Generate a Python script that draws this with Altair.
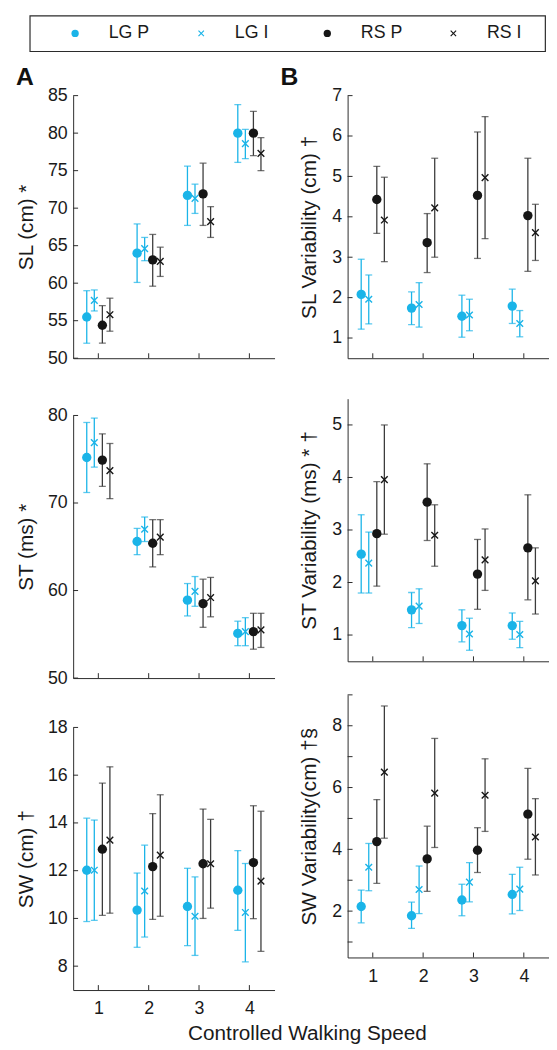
import altair as alt
import pandas as pd

SERIES = ["LG P", "LG I", "RS P", "RS I"]
SPEEDS = [1, 2, 3, 4]

# ---- SL (cm) ----
SL_MEAN = {"LG P": [55.5, 64.0, 71.7, 80.0], "LG I": [57.7, 64.6, 71.3, 78.6],
           "RS P": [54.4, 63.1, 71.9, 80.0], "RS I": [55.8, 62.9, 68.2, 77.3]}
SL_LOW = {"LG P": [52.0, 60.1, 67.7, 76.1], "LG I": [56.3, 63.0, 69.3, 76.6],
          "RS P": [52.0, 59.6, 67.7, 77.0], "RS I": [53.6, 60.9, 66.1, 75.0]}
SL_HIGH = {"LG P": [59.0, 67.9, 75.6, 83.8], "LG I": [59.1, 66.1, 73.2, 80.5],
           "RS P": [57.0, 66.5, 76.0, 82.9], "RS I": [58.0, 64.8, 70.2, 79.4]}

# ---- SL Variability (cm) ----
SLV_MEAN = {"LG P": [2.08, 1.74, 1.54, 1.79], "LG I": [1.96, 1.83, 1.57, 1.36],
            "RS P": [4.43, 3.36, 4.53, 4.03], "RS I": [3.92, 4.22, 4.97, 3.61]}
SLV_LOW = {"LG P": [1.22, 1.33, 1.02, 1.36], "LG I": [1.35, 1.27, 1.18, 1.03],
           "RS P": [3.59, 2.62, 2.97, 2.65], "RS I": [2.89, 3.00, 3.46, 2.92]}
SLV_HIGH = {"LG P": [2.95, 2.14, 2.06, 2.21], "LG I": [2.56, 2.37, 1.96, 1.68],
            "RS P": [5.25, 4.08, 6.10, 5.45], "RS I": [4.98, 5.45, 6.48, 4.31]}

# ---- ST (ms) ----
ST_MEAN = {"LG P": [75.2, 65.6, 58.9, 55.1], "LG I": [76.9, 67.0, 59.9, 55.3],
           "RS P": [74.9, 65.4, 58.5, 55.3], "RS I": [73.7, 66.1, 59.2, 55.5]}
ST_LOW = {"LG P": [71.2, 64.1, 57.1, 53.7], "LG I": [74.1, 65.6, 58.2, 53.7],
          "RS P": [71.9, 62.7, 55.8, 53.3], "RS I": [70.5, 64.1, 57.0, 53.5]}
ST_HIGH = {"LG P": [79.2, 67.1, 60.8, 56.5], "LG I": [79.7, 68.4, 61.6, 56.9],
           "RS P": [77.9, 68.1, 61.3, 57.4], "RS I": [76.8, 68.1, 61.5, 57.4]}

# ---- ST Variability (ms) ----
STV_MEAN = {"LG P": [2.54, 1.48, 1.18, 1.18], "LG I": [2.37, 1.55, 1.02, 1.01],
            "RS P": [2.93, 3.53, 2.16, 2.66], "RS I": [3.96, 2.90, 2.43, 2.03]}
STV_LOW = {"LG P": [1.80, 1.14, 0.87, 0.92], "LG I": [1.80, 1.22, 0.71, 0.76],
           "RS P": [1.93, 2.80, 1.49, 1.67], "RS I": [2.92, 2.31, 1.85, 1.40]}
STV_HIGH = {"LG P": [3.29, 1.81, 1.48, 1.42], "LG I": [2.96, 1.88, 1.32, 1.26],
            "RS P": [3.92, 4.26, 2.82, 3.67], "RS I": [5.00, 3.48, 3.02, 2.66]}

# ---- SW (cm) ----
SW_MEAN = {"LG P": [12.02, 10.35, 10.50, 11.18], "LG I": [12.02, 11.15, 10.09, 10.25],
           "RS P": [12.90, 12.17, 12.29, 12.34], "RS I": [13.28, 12.65, 12.29, 11.56]}
SW_LOW = {"LG P": [9.87, 8.79, 8.86, 9.50], "LG I": [9.92, 9.22, 8.45, 8.18],
          "RS P": [10.13, 9.96, 10.00, 9.99], "RS I": [10.22, 10.09, 10.43, 8.62]}
SW_HIGH = {"LG P": [14.20, 11.90, 12.10, 12.84], "LG I": [14.12, 13.07, 11.74, 12.30],
           "RS P": [15.67, 14.39, 14.58, 14.72], "RS I": [16.35, 15.18, 14.15, 14.49]}

# ---- SW Variability (cm) ----
SWV_MEAN = {"LG P": [2.15, 1.85, 2.36, 2.54], "LG I": [3.42, 2.70, 2.94, 2.71],
            "RS P": [4.25, 3.69, 3.97, 5.14], "RS I": [6.50, 5.82, 5.75, 4.40]}
SWV_LOW = {"LG P": [1.62, 1.44, 1.85, 1.91], "LG I": [2.66, 1.92, 2.30, 2.02],
           "RS P": [2.90, 2.64, 3.25, 3.68], "RS I": [4.36, 4.06, 4.58, 3.17]}
SWV_HIGH = {"LG P": [2.68, 2.29, 2.87, 3.19], "LG I": [4.19, 3.46, 3.57, 3.42],
            "RS P": [5.61, 4.75, 4.70, 6.62], "RS I": [8.64, 7.59, 6.93, 5.64]}

# axis ticks / labels
SL_TICKS = [50, 55, 60, 65, 70, 75, 80, 85]
SLV_TICKS = [1, 2, 3, 4, 5, 6, 7]
ST_TICKS = [50, 60, 70, 80]
STV_TICKS = [1, 2, 3, 4, 5]
SW_TICKS = [8, 10, 12, 14, 16, 18]
SWV_TICKS = [1, 2, 3, 4, 5, 6, 7, 8, 9]
SWV_LABELS = [2, 4, 6, 8]

X_TITLE = "Controlled Walking Speed"

# ---- styles ----
CYAN = "#1ab4e8"
BLACK = "#161616"
BAR_BLACK = "#3c3c3c"
AXIS_COLOR = "#2b2b2b"
TEXT_COLOR = "#1a1a1a"
FONT = "Liberation Sans"
OFFSET = {"LG P": -0.23, "LG I": -0.08, "RS P": 0.08, "RS I": 0.23}
XPATH = "M-1,-0.74L-0.74,-1L1,0.74L0.74,1Z M-1,0.74L0.74,-1L1,-0.74L-0.74,1Z"
W, H = 204, 266


def frame(mean, low, high):
    rows = []
    for s in SERIES:
        g, k = s.split()
        for j, sp in enumerate(SPEEDS):
            rows.append({"series": s, "group": g, "kind": k, "x": sp + OFFSET[s],
                         "m": mean[s][j], "lo": low[s][j], "hi": high[s][j]})
    return pd.DataFrame(rows)


def bar_color():
    return alt.when(alt.datum.group == "LG").then(alt.value(CYAN)).otherwise(alt.value(BAR_BLACK))


def mk_color():
    return alt.when(alt.datum.group == "LG").then(alt.value(CYAN)).otherwise(alt.value(BLACK))


def panel(df, title, ydom, ylabels, yticks, xlabels, head=None, head_dx=0, title_pad=11):
    xs = alt.Scale(domain=[0.5, 4.5], nice=False, zero=False)
    ys = alt.Scale(domain=ydom, nice=False, zero=False)
    xax = alt.Axis(values=SPEEDS, labels=xlabels, ticks=False, grid=False, title=None,
                   domainColor=AXIS_COLOR, labelPadding=10, format="d", labelFlush=False)
    yax = alt.Axis(values=ylabels, title=title, ticks=False, grid=False, labelPadding=6,
                   titlePadding=title_pad, domainColor=AXIS_COLOR, labelFlush=False)
    X = alt.X("x:Q", scale=xs, axis=xax)
    base = alt.Chart(df)
    xtk = alt.Chart(pd.DataFrame({"x": SPEEDS})).mark_rule(color=AXIS_COLOR, strokeWidth=1).encode(
        x=X, y=alt.value(H), y2=alt.value(H - 5))
    ytk = alt.Chart(pd.DataFrame({"v": yticks})).mark_rule(color=AXIS_COLOR, strokeWidth=1).encode(
        y=alt.Y("v:Q", scale=ys, axis=yax), x=alt.value(0), x2=alt.value(5))
    rules = base.mark_rule(strokeWidth=1.3).encode(
        x=X, y=alt.Y("lo:Q", scale=ys, axis=yax), y2="hi:Q", color=bar_color())
    caps = base.transform_fold(["lo", "hi"], as_=["end", "v"]).mark_tick(
        orient="horizontal", size=7, thickness=1.3).encode(
        x=X, y=alt.Y("v:Q", scale=ys, axis=yax), color=bar_color())
    circ = base.transform_filter(alt.datum.kind == "P").mark_point(
        filled=True, shape="circle", size=90, opacity=1).encode(
        x=X, y=alt.Y("m:Q", scale=ys, axis=yax), color=mk_color())
    crs = base.transform_filter(alt.datum.kind == "I").mark_point(
        filled=True, shape=XPATH, size=60, opacity=1).encode(
        x=X, y=alt.Y("m:Q", scale=ys, axis=yax), color=mk_color())
    ch = alt.layer(xtk, ytk, rules, caps, circ, crs).properties(width=W, height=H)
    if head:
        ch = ch.properties(title=alt.TitleParams(
            head, anchor="start", frame="bounds", fontSize=25, fontWeight="bold", font=FONT,
            color="#111111", dx=head_dx, baseline="alphabetic", offset=-23))
    return ch


def spacer(w, h):
    return alt.Chart(pd.DataFrame({"a": [0]})).mark_point(opacity=0).properties(width=w, height=h)


pA1 = panel(frame(SL_MEAN, SL_LOW, SL_HIGH), "SL (cm) *", [50, 85], SL_TICKS, SL_TICKS, False, head="A")
pA2 = panel(frame(ST_MEAN, ST_LOW, ST_HIGH), "ST (ms) *", [50, 80], ST_TICKS, ST_TICKS, False)
pA3 = panel(frame(SW_MEAN, SW_LOW, SW_HIGH), "SW (cm) \u2020", [7, 18], SW_TICKS, SW_TICKS, True)

pB1 = panel(frame(SLV_MEAN, SLV_LOW, SLV_HIGH), "SL Variability (cm) \u2020", [0.5, 7], SLV_TICKS, SLV_TICKS,
            False, head="B", head_dx=-18, title_pad=13)
pB2 = panel(frame(STV_MEAN, STV_LOW, STV_HIGH), "ST Variability (ms) * \u2020", [0.5, 5.5], STV_TICKS, STV_TICKS,
            False, title_pad=13)
pB3 = panel(frame(SWV_MEAN, SWV_LOW, SWV_HIGH), "SW Variability(cm) \u2020\u00a7", [0.5, 9], SWV_LABELS, SWV_TICKS,
            True, title_pad=13)

left = alt.vconcat(alt.vconcat(pA1, pA2, spacing=40), pA3, spacing=32)
right = alt.vconcat(alt.vconcat(pB1, pB2, spacing=40), pB3, spacing=32)
panels = alt.hconcat(left, right, spacing=5)
grid = alt.hconcat(spacer(1, 1), panels, spacing=0).properties(
    title=alt.TitleParams(X_TITLE, orient="bottom", anchor="middle", fontSize=21, fontWeight="normal",
                          font=FONT, color=TEXT_COLOR, dx=29, offset=6))

# ---- legend ----
leg_df = pd.DataFrame({"label": SERIES, "i": [0, 1, 2, 3],
                       "group": [s.split()[0] for s in SERIES], "kind": [s.split()[1] for s in SERIES]})
lx = alt.X("i:Q", scale=alt.Scale(domain=[-0.36, 3.727], nice=False, zero=False), axis=None)
lbase = alt.Chart(leg_df)
ldots = lbase.transform_filter(alt.datum.kind == "P").mark_point(
    filled=True, shape="circle", size=55, opacity=1).encode(x=lx, y=alt.value(18), color=mk_color())
lcross = lbase.transform_filter(alt.datum.kind == "I").mark_point(
    filled=True, shape=XPATH, size=40, opacity=1).encode(x=lx, y=alt.value(18), color=mk_color())
ltext = lbase.mark_text(align="left", baseline="middle", dx=34, fontSize=18, font=FONT,
                        color=TEXT_COLOR).encode(x=lx, y=alt.value(18), text="label:N")
legend = alt.layer(ldots, lcross, ltext).properties(
    width=522, height=36, view=alt.ViewBackground(stroke=AXIS_COLOR, strokeWidth=1.2))
legend_row = alt.hconcat(spacer(18, 36), legend, spacing=0)

chart = alt.vconcat(legend_row, grid, spacing=13).properties(padding=0).configure_view(
    stroke=None).configure_axis(
    labelFont=FONT, titleFont=FONT, labelFontSize=18, titleFontSize=21, labelColor=TEXT_COLOR,
    titleColor=TEXT_COLOR, titleFontWeight="normal", domainWidth=1)

chart.save("out.html", embed_options={"renderer": "svg", "actions": False})
